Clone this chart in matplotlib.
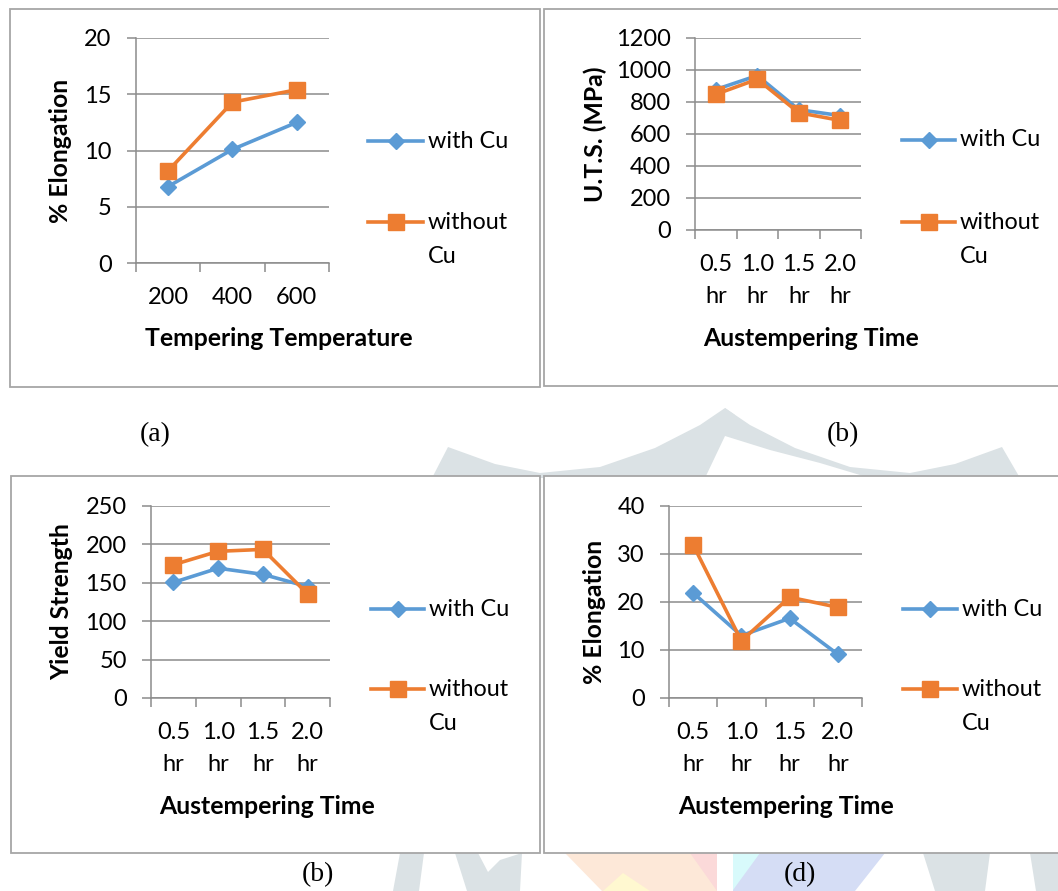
import matplotlib.pyplot as plt
from matplotlib.patches import Rectangle, Polygon
from matplotlib.lines import Line2D

plt.rcParams['font.family'] = ['Lato', 'DejaVu Sans']

# data
temper_labels = ['200', '400', '600']
temper_with_cu = [6.8, 10.1, 12.5]
temper_without_cu = [8.2, 14.3, 15.4]

time_labels = ['0.5\nhr', '1.0\nhr', '1.5\nhr', '2.0\nhr']
uts_with_cu = [878, 965, 752, 715]
uts_without_cu = [848, 942, 733, 685]
ys_with_cu = [150.5, 169, 161, 145]
ys_without_cu = [173.5, 191, 193.5, 135.5]
elong_with_cu = [21.9, 13.0, 16.6, 9.1]
elong_without_cu = [31.9, 11.9, 21.0, 18.9]

W, H = 1058, 891
BLUE = '#5b9bd5'
ORANGE = '#ed7d31'
GRID = '#8c8c8c'

fig = plt.figure(figsize=(W / 100, H / 100), dpi=100)


def fx(x):
    return x / W


def fy(y):
    return 1 - y / H


def blob(pts, color):
    # faint watermark piece, pixel coords
    fig.patches.append(Polygon([(fx(a), fy(b)) for a, b in pts], closed=True,
                               transform=fig.transFigure, facecolor=color,
                               edgecolor='none', zorder=-3))


def frame(x0, y0, x1, y1):
    fig.patches.append(Rectangle((fx(x0), fy(y1)), (x1 - x0) / W, (y1 - y0) / H,
                                 transform=fig.transFigure, facecolor='white',
                                 edgecolor='#a6a6a6', lw=1.3, zorder=-1))


def panel(box, labels, s1, s2, ymax, ystep, ylabel, ylab_xy, xlabel, xlab_xy, leg):
    x0, y0, x1, y1 = box
    ax = fig.add_axes([fx(x0), fy(y1), (x1 - x0) / W, (y1 - y0) / H])
    n = len(labels)
    xs = list(range(n))
    ax.plot(xs, s1, color=BLUE, lw=2.6, marker='D', ms=8, zorder=3)
    ax.plot(xs, s2, color=ORANGE, lw=2.6, marker='s', ms=11, zorder=4)
    ax.set_xlim(-0.5, n - 0.5)
    ax.set_ylim(0, ymax)
    ax.set_yticks([ystep * i for i in range(int(ymax / ystep) + 1)])
    ax.set_xticks(xs)
    tl = ax.set_xticklabels(labels)
    for t in tl:
        t.set_linespacing(1.65)
    ax.set_xticks([i - 0.5 for i in range(n + 1)], minor=True)
    ax.grid(axis='y', color=GRID, lw=1.1)
    ax.set_axisbelow(True)
    for s in ['top', 'right']:
        ax.spines[s].set_visible(False)
    for s in ['left', 'bottom']:
        ax.spines[s].set_color(GRID)
        ax.spines[s].set_linewidth(1.1)
    ax.tick_params(axis='y', length=6.5, color=GRID, width=1.1, pad=11, labelsize=17)
    ax.tick_params(axis='x', which='major', length=0, pad=17.5, labelsize=17)
    ax.tick_params(axis='x', which='minor', length=6.5, color=GRID, width=1.1)
    fig.text(fx(ylab_xy[0]), fy(ylab_xy[1]), ylabel, rotation=90, ha='center',
             va='center', fontsize=17.8, fontweight='bold')
    fig.text(fx(xlab_xy[0]), fy(xlab_xy[1]), xlabel, ha='center', va='center',
             fontsize=17.8, fontweight='bold')
    # legend
    lx0, lx1, ly1, ly2 = leg
    for yy, col, mk, ms in [(ly1, BLUE, 'D', 8), (ly2, ORANGE, 's', 11)]:
        fig.add_artist(Line2D([fx(lx0), fx(lx1)], [fy(yy), fy(yy)], color=col, lw=2.6,
                              transform=fig.transFigure))
        fig.add_artist(Line2D([fx((lx0 + lx1) / 2)], [fy(yy)], color=col, marker=mk,
                              ms=ms, transform=fig.transFigure))
    fig.text(fx(lx1 + 5), fy(ly1), 'with Cu', ha='left', va='center', fontsize=16.8)
    fig.text(fx(lx1 + 5), fy(ly2 - 10), 'without\nCu', ha='left', va='top',
             fontsize=16.8, linespacing=1.75)
    return ax


# watermark behind the panels
GREY = '#dbe2e5'
blob([(432, 478), (448, 447), (495, 464), (540, 473), (600, 467), (655, 448),
      (700, 425), (725, 408), (735, 415), (725, 436), (705, 478)], GREY)
blob([(725, 408), (750, 425), (795, 448), (850, 467), (910, 473), (955, 464),
      (1002, 447), (1020, 478), (870, 478), (820, 463), (770, 450), (725, 436)], GREY)
blob([(400, 853), (424, 853), (419, 891), (393, 891)], GREY)
blob([(455, 853), (478, 853), (488, 872), (500, 860), (522, 853), (520, 891), (467, 891)], GREY)
blob([(923, 853), (990, 853), (985, 891), (935, 891)], GREY)
blob([(1030, 853), (1058, 853), (1058, 891), (1036, 891)], GREY)
blob([(565, 853), (717, 853), (717, 891), (602, 891)], '#fde8d8')
blob([(690, 853), (717, 853), (717, 891)], '#fbd9d9')
blob([(603, 891), (623, 873), (650, 891)], '#fff8d0')
blob([(733, 853), (885, 853), (855, 891), (733, 891)], '#d5ddf5')
blob([(733, 853), (760, 853), (733, 890)], '#d8fafb')

frame(10, 9, 540, 387)
frame(544, 9, 1062, 386)
frame(11, 476, 540, 853)
frame(544, 476, 1062, 853)

panel((136, 38, 329, 263), temper_labels, temper_with_cu, temper_without_cu, 20, 5,
      '% Elongation', (60, 151), 'Tempering Temperature', (279, 338),
      (368, 423, 141, 222))
panel((695, 38, 861, 230), time_labels, uts_with_cu, uts_without_cu, 1200, 200,
      'U.T.S. (MPa)', (595, 134), 'Austempering Time', (811, 338),
      (902, 955, 140, 222))
panel((151, 506, 330, 698), time_labels, ys_with_cu, ys_without_cu, 250, 50,
      'Yield Strength', (62, 602), 'Austempering Time', (267, 807),
      (371, 424, 609, 689))
panel((669, 506, 862, 698), time_labels, elong_with_cu, elong_without_cu, 40, 10,
      '% Elongation', (595, 612), 'Austempering Time', (786, 807),
      (903, 957, 609, 689))

for txt, x, y in [('(a)', 155, 435), ('(b)', 843, 435), ('(b)', 318, 875), ('(d)', 800, 875)]:
    fig.text(fx(x), fy(y), txt, ha='center', va='center', fontsize=20,
             family='Liberation Serif')

fig.savefig('out.png', dpi=100)
